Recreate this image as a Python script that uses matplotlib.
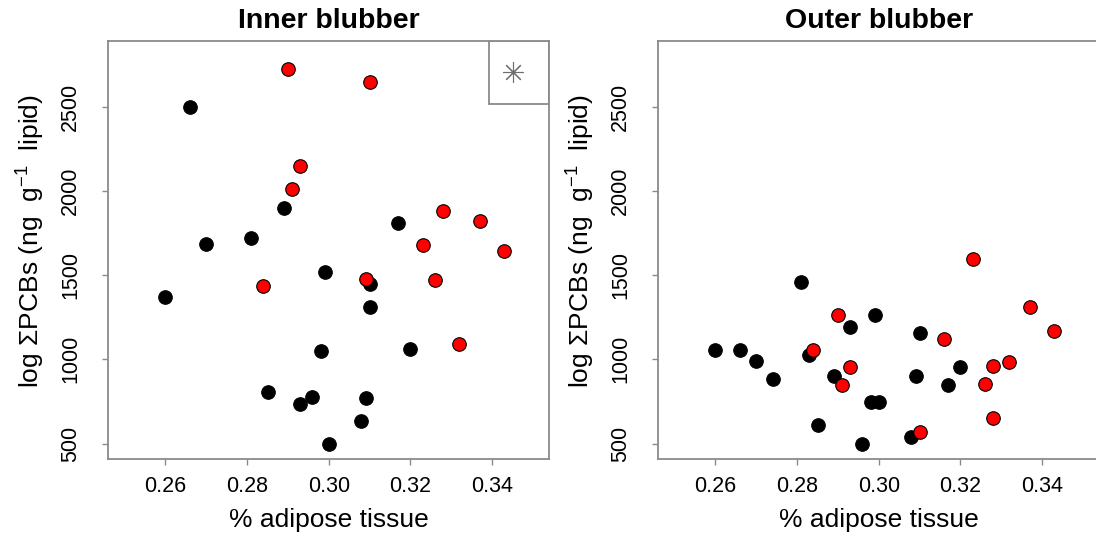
import matplotlib
matplotlib.use("Agg")
import matplotlib.pyplot as plt
from matplotlib.patches import Rectangle

plt.rcParams['font.family'] = ['Liberation Sans', 'DejaVu Sans']
plt.rcParams['mathtext.fontset'] = 'custom'
plt.rcParams['mathtext.rm'] = 'Liberation Sans'
plt.rcParams['mathtext.it'] = 'Liberation Sans:italic'
plt.rcParams['mathtext.bf'] = 'Liberation Sans:bold'

# Inner blubber
inner_black_x = [0.266, 0.289, 0.317, 0.270, 0.281, 0.299, 0.310, 0.260, 0.310,
                 0.298, 0.320, 0.285, 0.293, 0.296, 0.309, 0.308, 0.300]
inner_black_y = [2500, 1901, 1812, 1682, 1719, 1520, 1450, 1370, 1311,
                 1048, 1064, 806, 735, 779, 769, 631, 498]
inner_red_x = [0.290, 0.310, 0.293, 0.291, 0.328, 0.337, 0.323, 0.343,
               0.309, 0.284, 0.326, 0.332]
inner_red_y = [2722, 2645, 2148, 2012, 1879, 1820, 1677, 1646,
               1474, 1434, 1468, 1088]

# Outer blubber
outer_black_x = [0.281, 0.299, 0.293, 0.310, 0.260, 0.266, 0.270, 0.274, 0.283,
                 0.289, 0.298, 0.300, 0.285, 0.296, 0.308, 0.309, 0.317, 0.320]
outer_black_y = [1460, 1266, 1192, 1155, 1056, 1056, 987, 886, 1028,
                 898, 747, 747, 609, 496, 536, 898, 846, 953]
outer_red_x = [0.323, 0.337, 0.343, 0.290, 0.316, 0.284, 0.293, 0.291,
               0.310, 0.328, 0.332, 0.326, 0.328]
outer_red_y = [1598, 1308, 1171, 1262, 1119, 1054, 957, 848,
               567, 963, 983, 852, 654]

x_ticks = [0.26, 0.28, 0.30, 0.32, 0.34]
x_ticklabels = ["0.26", "0.28", "0.30", "0.32", "0.34"]
y_ticks = [500, 1000, 1500, 2000, 2500]
y_ticklabels = ["500", "1000", "1500", "2000", "2500"]

W, H = 1096, 539
fig = plt.figure(figsize=(W / 100, H / 100), dpi=100)

ax_w, ax_h = 441 / W, 418.3 / H
ax_b = (H - 459) / H
ax1 = fig.add_axes([108.3 / W, ax_b, ax_w, ax_h])
ax2 = fig.add_axes([658.3 / W, ax_b, ax_w, ax_h])

axis_grey = '#8a8a8a'
panels = [
    (ax1, "Inner blubber", inner_black_x, inner_black_y, inner_red_x, inner_red_y),
    (ax2, "Outer blubber", outer_black_x, outer_black_y, outer_red_x, outer_red_y),
]

for ax, title, bx, by, rx, ry in panels:
    ax.scatter(bx, by, s=95, c='black', edgecolors='black', linewidths=0.8, zorder=3)
    ax.scatter(rx, ry, s=95, c='#ff0000', edgecolors='black', linewidths=0.8, zorder=4)
    ax.set_xlim(0.246, 0.354)
    ax.set_ylim(408, 2892)
    ax.set_xticks(x_ticks)
    ax.set_xticklabels(x_ticklabels)
    ax.set_yticks(y_ticks)
    ax.set_yticklabels(y_ticklabels, rotation=90, va='center')
    ax.tick_params(axis='x', labelsize=15.5, length=4.5, width=1.0,
                   color=axis_grey, pad=7.5)
    ax.tick_params(axis='y', labelsize=15.5, length=4.5, width=1.0,
                   color=axis_grey, pad=15)
    for sp in ax.spines.values():
        sp.set_color(axis_grey)
        sp.set_linewidth(1.3)
    ax.set_title(title, fontsize=20.5, fontweight='bold', pad=9)
    ax.set_xlabel("% adipose tissue", fontsize=19)
    ax.xaxis.set_label_coords(0.5, -0.146)
    ax.xaxis.label.set_verticalalignment('center')
    ax.set_ylabel(r"log $\Sigma$PCBs (ng  g$^{-1}$  lipid)", fontsize=19)
    ax.yaxis.set_label_coords(-0.175, 0.52)
    ax.yaxis.label.set_verticalalignment('center')

# Legend box with asterisk symbol in the inner panel
box_w = 60 / 441
box_h = 63.3 / 418.3
ax1.add_patch(Rectangle((1 - box_w, 1 - box_h), box_w, box_h, transform=ax1.transAxes,
                        fill=False, edgecolor=axis_grey, linewidth=1.3, zorder=5))
ax1.plot([1 - box_w / 2 - 6 / 441], [1 - box_h / 2], transform=ax1.transAxes,
         marker=(8, 2, 0), markersize=15, color='#6e6e6e', markeredgewidth=0.8,
         linestyle='none', zorder=6)

fig.savefig("out.png", dpi=100)
